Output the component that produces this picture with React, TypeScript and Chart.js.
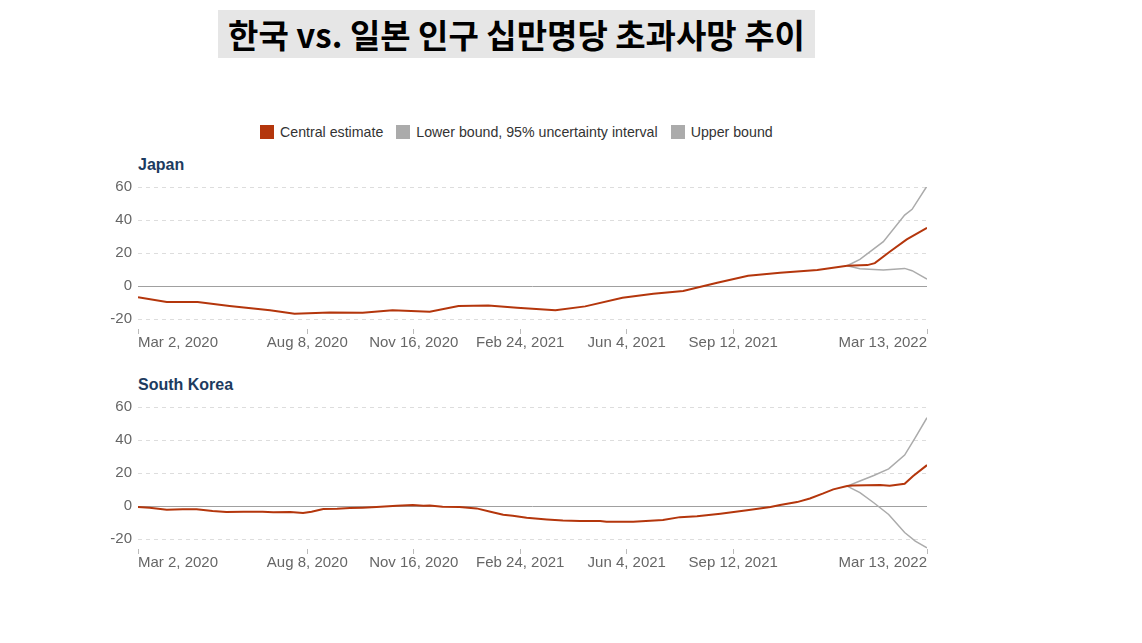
import { Chart, registerables } from 'chart.js';
import { useEffect, useRef } from 'react';

Chart.register(...registerables);

const START = '2020-03-02';
const RED = '#b4360c';
const GRAY = '#ababab';

const tickDates = ['2020-03-02', '2020-08-08', '2020-11-16', '2021-02-24', '2021-06-04', '2021-09-12', '2022-03-13'];
const tickLabels = ['Mar 2, 2020', 'Aug 8, 2020', 'Nov 16, 2020', 'Feb 24, 2021', 'Jun 4, 2021', 'Sep 12, 2021', 'Mar 13, 2022'];
const yTicks = [-20, 0, 20, 40, 60];

// Japan
const japanDates = [
    '2020-03-02', '2020-03-29', '2020-04-27', '2020-05-27', '2020-07-04', '2020-07-27', '2020-08-29',
    '2020-09-29', '2020-10-27', '2020-12-01', '2020-12-28', '2021-01-25', '2021-02-21', '2021-03-29',
    '2021-04-26', '2021-05-31', '2021-06-29', '2021-07-27', '2021-08-28', '2021-09-26', '2021-10-26',
    '2021-11-30', '2021-12-28', '2022-01-16', '2022-01-23', '2022-02-06', '2022-02-22', '2022-03-13',
];
const japanCentral = [
    -6.7, -9.7, -9.7, -12.1, -14.7, -16.8, -16.0,
    -16.2, -14.7, -15.6, -12.1, -11.7, -13.1, -14.7,
    -12.3, -7.1, -4.6, -3.0, 2.0, 6.3, 8.1,
    9.7, 12.3, 12.7, 13.9, 20.8, 28.3, 35.3,
];
const japanBoundDates = ['2021-12-28', '2022-01-09', '2022-01-31', '2022-02-20', '2022-02-27', '2022-03-13'];
const japanLower = [12.3, 10.5, 9.7, 10.7, 9.3, 4.2];
const japanUpper = [12.3, 16.2, 26.9, 43.0, 46.5, 60.6];

// South Korea
const koreaDates = [
    '2020-03-02', '2020-03-13', '2020-03-29', '2020-04-13', '2020-04-26', '2020-05-11', '2020-05-24',
    '2020-06-09', '2020-06-27', '2020-07-07', '2020-07-23', '2020-08-04', '2020-08-12', '2020-08-23',
    '2020-09-05', '2020-09-17', '2020-09-29', '2020-10-12', '2020-10-31', '2020-11-15', '2020-11-25',
    '2020-12-01', '2020-12-13', '2020-12-29', '2021-01-14', '2021-01-27', '2021-02-08', '2021-02-17',
    '2021-03-02', '2021-03-21', '2021-04-05', '2021-04-21', '2021-05-10', '2021-05-16', '2021-06-10',
    '2021-07-08', '2021-07-24', '2021-08-09', '2021-08-31', '2021-09-25', '2021-10-17', '2021-10-26',
    '2021-11-11', '2021-11-23', '2021-12-05', '2021-12-15', '2021-12-28', '2022-01-02', '2022-01-28',
    '2022-02-06', '2022-02-20', '2022-02-28', '2022-03-13',
];
const koreaCentral = [
    -0.6, -1.0, -2.2, -2.0, -1.9, -3.0, -3.6,
    -3.4, -3.4, -3.8, -3.6, -4.2, -3.4, -1.8,
    -1.6, -1.2, -1.0, -0.6, 0.2, 0.6, 0.2,
    0.4, -0.4, -0.6, -1.4, -3.4, -5.3, -5.9,
    -7.1, -8.1, -8.7, -9.1, -9.1, -9.5, -9.5,
    -8.5, -6.7, -6.1, -4.6, -2.6, -0.6, 0.6,
    2.4, 4.6, 7.5, 10.1, 12.1, 12.5, 12.7,
    12.3, 13.5, 18.2, 24.8,
];
const koreaBoundDates = ['2021-12-28', '2022-01-09', '2022-01-22', '2022-02-05', '2022-02-20', '2022-03-02', '2022-03-13'];
const koreaLower = [12.1, 8.1, 2.0, -5.1, -16.0, -21.2, -25.3];
const koreaUpper = [12.1, 15.2, 18.5, 22.5, 30.9, 41.4, 53.5];

const toDay = (d: string) => (Date.parse(d) - Date.parse(START)) / 86400000;
const tickDays = tickDates.map(toDay);

const CANVAS_W = 837;
const CANVAS_H = 180;

interface PanelProps {
    label: string;
    top: number;
    dates: string[];
    central: number[];
    boundDates: string[];
    lower: number[];
    upper: number[];
}

const Panel: React.FC<PanelProps> = ({ label, top, dates, central, boundDates, lower, upper }) => {
    const canvasRef = useRef<HTMLCanvasElement | null>(null);

    useEffect(() => {
        if (!canvasRef.current) return;
        const line = (xs: string[], ys: number[], color: string, width: number) => ({
            data: xs.map((d, i) => ({ x: toDay(d), y: ys[i] })),
            borderColor: color,
            backgroundColor: color,
            borderWidth: width,
            pointRadius: 0,
            tension: 0,
        });

        const chart = new Chart(canvasRef.current, {
            type: 'line',
            data: {
                datasets: [
                    line(dates, central, RED, 2),
                    line(boundDates, lower, GRAY, 1.5),
                    line(boundDates, upper, GRAY, 1.5),
                ],
            },
            options: {
                animation: false,
                responsive: false,
                maintainAspectRatio: false,
                layout: { padding: { top: 10, right: 8, left: 0, bottom: 0 } },
                plugins: { legend: { display: false }, tooltip: { enabled: false } },
                scales: {
                    x: {
                        type: 'linear',
                        min: 0,
                        max: toDay('2022-03-13'),
                        afterBuildTicks: (scale) => {
                            scale.ticks = tickDays.map((v) => ({ value: v }));
                        },
                        grid: { drawOnChartArea: false, drawTicks: true, tickLength: 5, color: '#bbbbbb' },
                        border: { display: false },
                        ticks: {
                            autoSkip: false,
                            maxRotation: 0,
                            align: 'inner',
                            padding: 0,
                            color: '#666666',
                            font: { family: 'Liberation Sans, Arial, sans-serif', size: 15 },
                            callback: (v) => tickLabels[tickDays.indexOf(Number(v))] ?? '',
                        },
                    },
                    y: {
                        min: -26,
                        max: 60,
                        afterBuildTicks: (scale) => {
                            scale.ticks = yTicks.map((v) => ({ value: v }));
                        },
                        afterFit: (scale) => {
                            scale.width = 40;
                        },
                        grid: {
                            drawTicks: false,
                            color: (ctx) => (ctx.tick && ctx.tick.value === 0 ? '#a0a0a0' : '#dddddd'),
                            lineWidth: 1,
                        },
                        border: {
                            display: false,
                            dash: (ctx) => (ctx.tick && ctx.tick.value === 0 ? [] : [4, 4]),
                        },
                        ticks: {
                            padding: 6,
                            color: '#666666',
                            font: { family: 'Liberation Sans, Arial, sans-serif', size: 15 },
                        },
                    },
                },
            },
        });

        return () => {
            chart.destroy();
        };
    }, [dates, central, boundDates, lower, upper]);

    return (
        <>
            <div
                style={{
                    position: 'absolute',
                    left: 138,
                    top: top - 31,
                    fontFamily: 'Liberation Sans, Arial, sans-serif',
                    fontWeight: 'bold',
                    fontSize: 16,
                    color: '#1d3b60',
                    lineHeight: '20px',
                }}
            >
                {label}
            </div>
            <div style={{ position: 'absolute', left: 98, top: top - 14, width: CANVAS_W, height: CANVAS_H }}>
                <canvas
                    ref={canvasRef}
                    width={CANVAS_W}
                    height={CANVAS_H}
                    style={{ width: CANVAS_W, height: CANVAS_H }}
                ></canvas>
            </div>
        </>
    );
};

const legendItems = [
    { label: 'Central estimate', color: RED },
    { label: 'Lower bound, 95% uncertainty interval', color: GRAY },
    { label: 'Upper bound', color: GRAY },
];

export default function App() {
    return (
        <div style={{ position: 'absolute', left: 0, top: 0, width: 1142, height: 643, background: '#ffffff' }}>
            <div
                style={{
                    position: 'absolute',
                    left: 218,
                    top: 10,
                    width: 597,
                    height: 48,
                    background: '#e6e6e6',
                    display: 'flex',
                    alignItems: 'center',
                    justifyContent: 'center',
                    fontFamily: '"Noto Sans CJK KR", sans-serif',
                    fontWeight: 'bold',
                    fontSize: 33,
                    color: '#000000',
                    whiteSpace: 'nowrap',
                }}
            >
                한국 vs. 일본 인구 십만명당 초과사망 추이
            </div>
            <div
                style={{
                    position: 'absolute',
                    left: 260,
                    top: 123,
                    display: 'flex',
                    fontFamily: 'Liberation Sans, Arial, sans-serif',
                    fontSize: 14.2,
                    color: '#333333',
                    lineHeight: '18px',
                    whiteSpace: 'nowrap',
                }}
            >
                {legendItems.map((it) => (
                    <div key={it.label} style={{ display: 'flex', alignItems: 'center', marginRight: 13 }}>
                        <span style={{ width: 14, height: 14, background: it.color, marginRight: 6, display: 'inline-block' }}></span>
                        {it.label}
                    </div>
                ))}
            </div>
            <Panel
                label="Japan"
                top={186}
                dates={japanDates}
                central={japanCentral}
                boundDates={japanBoundDates}
                lower={japanLower}
                upper={japanUpper}
            />
            <Panel
                label="South Korea"
                top={406}
                dates={koreaDates}
                central={koreaCentral}
                boundDates={koreaBoundDates}
                lower={koreaLower}
                upper={koreaUpper}
            />
        </div>
    );
}
